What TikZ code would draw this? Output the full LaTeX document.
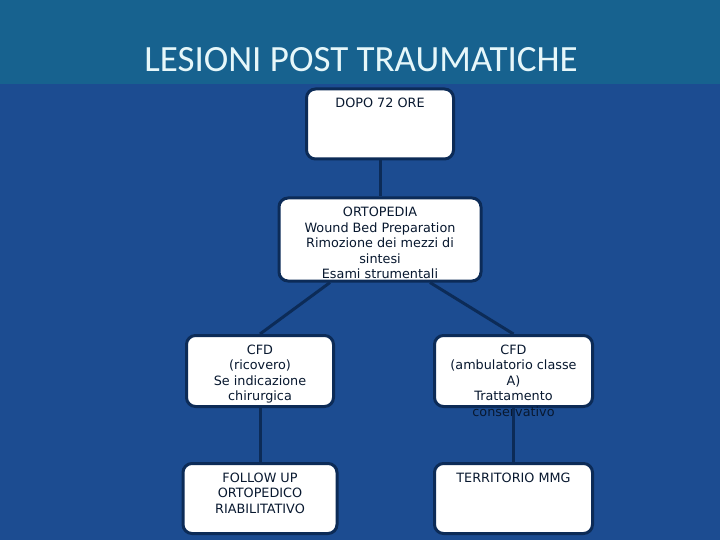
\documentclass[tikz,border=0pt]{standalone}
\usepackage{fontspec}
\setmainfont{DejaVu Sans}
\newfontfamily\titlefont{Carlito}
\usepackage{tikz}
\usetikzlibrary{positioning}

\definecolor{slidebg}{HTML}{1C4C91}
\definecolor{bandbg}{HTML}{17628F}
\definecolor{navy}{HTML}{0C2B57}
\definecolor{boxtext}{HTML}{08182F}
\definecolor{titletext}{HTML}{E6F7FA}

\begin{document}
\begin{tikzpicture}[
    x=1pt, y=-1pt,
    node distance=39pt,
    box/.style={
        rectangle,
        draw=navy,
        fill=white,
        line width=3pt,
        rounded corners=9pt,
        minimum width=#1,
        minimum height=70pt,
        inner sep=0pt
    },
    boxlabel/.style={
        anchor=north,
        inner sep=0pt,
        yshift=-10.5pt,
        align=center,
        font=\fontsize{12.8}{15.5}\selectfont,
        text=boxtext
    },
    link/.style={draw=navy, line width=3pt}
]

% Background
\fill[slidebg] (0,0) rectangle (720,540);
\fill[bandbg] (0,0) rectangle (720,84);
\useasboundingbox (0,0) rectangle (720,540);

% Title
\node[text=titletext, font=\titlefont\fontsize{37}{42}\selectfont] (title) at (361,60) {LESIONI POST TRAUMATICHE};

% Boxes
\node[box=147pt] (dopo) at (380,124) {};
\node[box=202pt, minimum height=83pt, below=36pt of dopo] (orto) {};
\node[box=147pt, minimum height=71pt] (ricovero) at (260,371) {};
\node[box=158pt, minimum height=71pt] (ambul) at (513.5,371) {};
\node[box=154pt, below=54pt of ricovero] (follow) {};
\node[box=158pt, below=54pt of ambul] (territorio) {};

% Box texts
\node[boxlabel] (dopotxt) at (dopo.north) {DOPO 72 ORE};
\node[boxlabel] (ortotxt) at (orto.north) {ORTOPEDIA\\Wound Bed Preparation\\Rimozione dei mezzi di\\sintesi\\Esami strumentali};
\node[boxlabel] (ricoverotxt) at (ricovero.north) {CFD\\(ricovero)\\Se indicazione\\chirurgica};
\node[boxlabel] (ambultxt) at (ambul.north) {CFD\\(ambulatorio classe\\A)\\Trattamento\\conservativo};
\node[boxlabel] (followtxt) at (follow.north) {FOLLOW UP\\ORTOPEDICO\\RIABILITATIVO};
\node[boxlabel] (territoriotxt) at (territorio.north) {TERRITORIO MMG};

% Connectors
\draw[link] (dopo.south) -- (orto.north);
\draw[link] ([xshift=-50pt]orto.south) -- (ricovero.north);
\draw[link] ([xshift=50pt]orto.south) -- (ambul.north);
\draw[link] (ricovero.south) -- (ricovero.south |- follow.north);
\draw[link] (ambul.south) -- (ambul.south |- territorio.north);

\end{tikzpicture}
\end{document}
